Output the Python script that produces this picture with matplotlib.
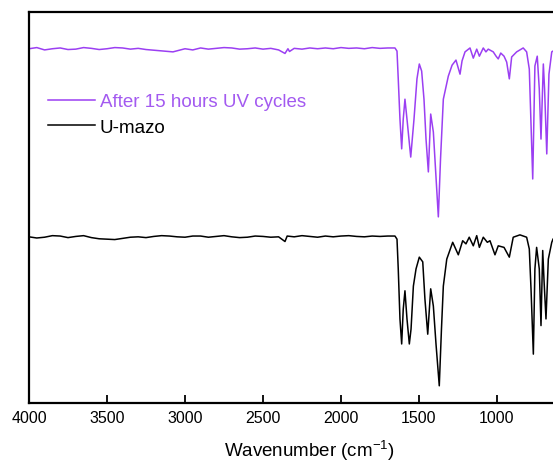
import matplotlib
matplotlib.use("Agg")
import matplotlib.pyplot as plt

plt.rcParams["font.family"] = ["Liberation Sans", "DejaVu Sans"]
plt.rcParams["mathtext.default"] = "regular"

# spectra (wavenumber in cm-1, signal in a.u.)
wn_uv = [4000, 3950, 3900, 3850, 3800, 3750, 3700, 3650, 3600, 3550, 3500, 3450,
         3400, 3350, 3300, 3250, 3077, 3000, 2950, 2900, 2850, 2800, 2750, 2700,
         2650, 2600, 2550, 2500, 2450, 2400, 2359, 2340, 2330, 2300, 2250, 2200,
         2150, 2100, 2050, 2000, 1950, 1900, 1850, 1800, 1750, 1700, 1654, 1641,
         1633, 1622, 1611, 1601, 1590, 1577, 1553, 1532, 1513, 1498, 1483, 1468,
         1455, 1440, 1425, 1408, 1394, 1376, 1362, 1344, 1312, 1288, 1263, 1237,
         1224, 1205, 1173, 1152, 1130, 1113, 1088, 1071, 1056, 1024, 1006, 992,
         976, 955, 938, 921, 906, 874, 832, 810, 793, 771, 757, 742, 729, 718,
         703, 695, 681, 667, 649, 641]
t_uv = [90.6, 90.9, 90.3, 90.6, 90.8, 90.4, 90.5, 90.9, 90.7, 90.4, 90.6, 90.9,
        90.8, 90.5, 90.7, 90.4, 89.8, 90.6, 90.3, 90.8, 90.5, 90.7, 90.9, 90.8,
        90.5, 90.6, 90.8, 90.5, 90.7, 90.3, 89.4, 90.6, 89.9, 90.7, 90.5, 90.8,
        90.6, 90.8, 90.6, 90.9, 90.7, 90.8, 90.6, 90.9, 90.7, 90.8, 90.8, 90.0,
        82.9, 72.6, 65.0, 72.6, 77.7, 72.6, 62.9, 72.6, 82.9, 86.7, 84.9, 77.7,
        67.5, 59.1, 73.9, 69.3, 59.8, 47.6, 62.4, 77.7, 83.6, 86.4, 87.7, 84.1,
        87.5, 89.8, 90.8, 88.2, 90.5, 88.7, 90.8, 89.8, 90.5, 89.8, 88.7, 88.0,
        89.5, 88.7, 87.2, 82.9, 88.5, 89.8, 90.8, 89.8, 85.4, 57.3, 86.2, 88.7,
        80.3, 67.5, 86.7, 80.3, 63.7, 84.1, 89.8, 90.0]

wn_ref = [4000, 3950, 3900, 3850, 3800, 3750, 3700, 3650, 3600, 3550, 3500, 3450,
          3400, 3350, 3300, 3250, 3200, 3150, 3100, 3050, 3000, 2950, 2900, 2850,
          2800, 2750, 2700, 2650, 2600, 2550, 2500, 2450, 2400, 2359, 2345, 2300,
          2250, 2200, 2150, 2100, 2050, 2000, 1950, 1900, 1850, 1800, 1750, 1700,
          1654, 1641, 1633, 1622, 1611, 1601, 1590, 1577, 1562, 1551, 1536, 1519,
          1498, 1476, 1462, 1444, 1425, 1408, 1391, 1370, 1356, 1344, 1322, 1284,
          1248, 1220, 1199, 1178, 1152, 1130, 1113, 1088, 1062, 1045, 1013, 992,
          955, 921, 896, 853, 810, 793, 782, 767, 757, 746, 729, 718, 707, 699,
          686, 671, 649, 641]
t_ref = [42.5, 42.2, 42.4, 42.8, 42.7, 42.3, 42.6, 42.8, 42.3, 42.0, 41.9, 41.8,
         42.1, 42.4, 42.5, 42.3, 42.6, 42.8, 42.7, 42.5, 42.4, 42.7, 42.7, 42.4,
         42.6, 42.8, 42.5, 42.3, 42.4, 42.7, 42.6, 42.4, 42.5, 41.3, 42.7, 42.5,
         42.8, 42.6, 42.4, 42.7, 42.5, 42.7, 42.8, 42.6, 42.5, 42.7, 42.6, 42.7,
         42.7, 41.9, 34.3, 21.5, 15.1, 24.0, 28.7, 21.5, 15.1, 18.9, 29.9, 34.3,
         37.3, 36.1, 26.6, 17.6, 29.2, 24.8, 15.1, 4.4, 18.9, 29.9, 36.8, 41.1,
         37.9, 41.5, 40.7, 42.4, 40.2, 42.8, 39.8, 42.4, 41.1, 41.5, 37.9, 40.2,
         39.8, 37.3, 42.4, 43.0, 42.4, 39.4, 29.2, 12.5, 34.3, 39.8, 34.3, 19.8,
         39.0, 31.7, 21.5, 36.8, 41.1, 41.9]

labels = ["After 15 hours UV cycles", "U-mazo"]
couleurs = ["#9B3FF2", "black"]
xticks = [4000, 3500, 3000, 2500, 2000, 1500, 1000]

fig = plt.figure(figsize=(5.53, 4.64), dpi=100)
ax = fig.add_axes([0.0524, 0.1293, 1.0156, 0.8427])

ax.plot(wn_uv, t_uv, color=couleurs[0], linewidth=1.1, label=labels[0])
ax.plot(wn_ref, t_ref, color=couleurs[1], linewidth=1.1, label=labels[1])

ax.set_xlim(4000, 400)
ax.set_ylim(0, 100)
ax.set_xticks(xticks)
ax.set_yticks([])
ax.tick_params(axis="x", direction="in", length=6, width=1.3, labelsize=11.5, pad=5)
for s in ax.spines.values():
    s.set_linewidth(1.6)
ax.set_xlabel("Wavenumber (cm$^{-1}$)", fontsize=13.5, labelpad=9)

leg = ax.legend(loc="upper left", bbox_to_anchor=(48 / 553, 1 - 94 / 464),
                bbox_transform=fig.transFigure, frameon=False, fontsize=13.5,
                handlelength=2.5, handletextpad=0.25, labelspacing=0.45,
                borderpad=0, borderaxespad=0, labelcolor=["#A35AF0", "black"])

fig.savefig("out.png", dpi=100)
